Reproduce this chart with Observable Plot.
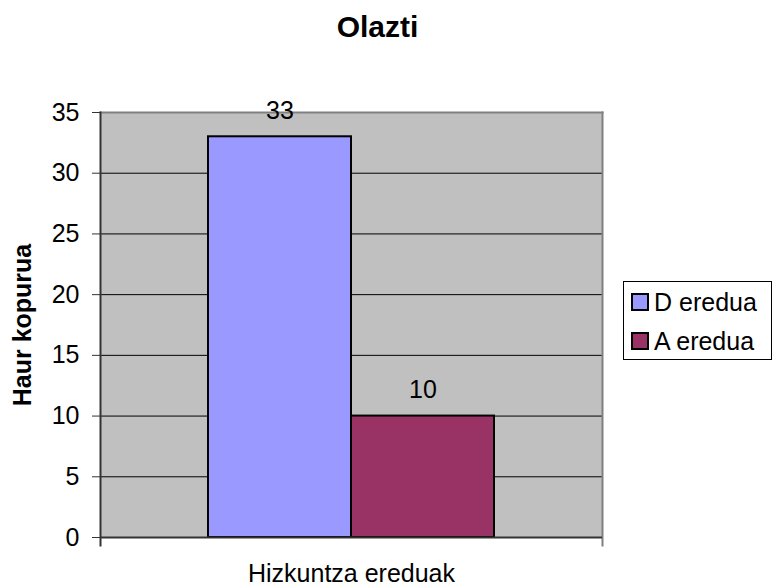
<!DOCTYPE html>
<html>
<head>
<meta charset="utf-8">
<script src="https://cdn.jsdelivr.net/npm/d3@7"></script>
<script src="https://cdn.jsdelivr.net/npm/@observablehq/plot@0.6"></script>
<style>
  html, body { margin: 0; padding: 0; background: #fff; }
  #wrap { position: relative; width: 772px; height: 587px; font-family: "Liberation Sans", Arial, sans-serif; }
  #legend { position: absolute; left: 623px; top: 281px; width: 147px; height: 77px; border: 1px solid #000; background: #fff; font-size: 25px; }
  .item { position: absolute; left: 7px; height: 28px; display: flex; align-items: center; }
  .sw { width: 18px; height: 18px; border: 2px solid #000; margin-right: 5px; box-sizing: border-box; }
</style>
</head>
<body>
<div id="wrap"></div>
<script>
const title = "Olazti";
const categories = ["D eredua", "A eredua"];
const values = [33, 10];
const colors = ["#9999FF", "#993366"];
const yTicks = [0, 5, 10, 15, 20, 25, 30, 35];
const xLabel = "Hizkuntza ereduak";
const yLabel = "Haur kopurua";

const data = categories.map((c, i) => ({category: c, value: values[i]}));

const chart = Plot.plot({
  width: 772,
  height: 587,
  marginLeft: 100,
  marginRight: 170,
  marginTop: 112,
  marginBottom: 50,
  style: {fontFamily: "Liberation Sans, Arial, sans-serif", fontSize: "25px", color: "#000", background: "#fff"},
  x: {domain: categories, paddingInner: 0, paddingOuter: 0.755, axis: null},
  y: {domain: [0, 35], ticks: yTicks, axis: null},
  color: {domain: categories, range: colors},
  marks: [
    Plot.frame({fill: "#C0C0C0", stroke: null}),
    Plot.ruleY(yTicks.filter(d => d > 0 && d < 35), {stroke: "#000", strokeWidth: 1}),
    Plot.frame({anchor: "top", stroke: "#808080", strokeWidth: 2}),
    Plot.frame({anchor: "right", stroke: "#808080", strokeWidth: 2, insetBottom: -8}),
    Plot.barY(data, {x: "category", y: "value", fill: "category", stroke: "#000", strokeWidth: 2}),
    Plot.ruleY([0], {stroke: "#333", strokeWidth: 2}),
    Plot.frame({anchor: "left", stroke: "#333", strokeWidth: 2, insetBottom: -8}),
    Plot.axisY({ticks: yTicks, tickSize: 8, tickPadding: 13, label: null, fontSize: 25, stroke: "#333"}),
    Plot.text(data, {x: "category", y: "value", text: d => String(d.value), lineAnchor: "bottom", dy: -18, fontSize: 25, fill: "#000"}),
    Plot.text([title], {frameAnchor: "top", dy: -97, dx: 26, lineAnchor: "top", fontSize: 30, fontWeight: "bold", fill: "#000", text: d => d}),
    Plot.text([xLabel], {frameAnchor: "bottom", dy: 27, lineAnchor: "top", fontSize: 25, fill: "#000", text: d => d}),
    Plot.text([yLabel], {frameAnchor: "left", dx: -78, rotate: -90, textAnchor: "middle", lineAnchor: "middle", fontSize: 25, fontWeight: "bold", fill: "#000", text: d => d})
  ]
});

const wrap = document.getElementById("wrap");
wrap.appendChild(chart);

const legend = document.createElement("div");
legend.id = "legend";
categories.forEach((c, i) => {
  const it = document.createElement("div");
  it.className = "item";
  it.style.top = (i === 0 ? 6 : 45) + "px";
  const sw = document.createElement("div");
  sw.className = "sw";
  sw.style.background = colors[i];
  const t = document.createElement("span");
  t.textContent = c;
  it.appendChild(sw);
  it.appendChild(t);
  legend.appendChild(it);
});
wrap.appendChild(legend);
</script>
</body>
</html>
